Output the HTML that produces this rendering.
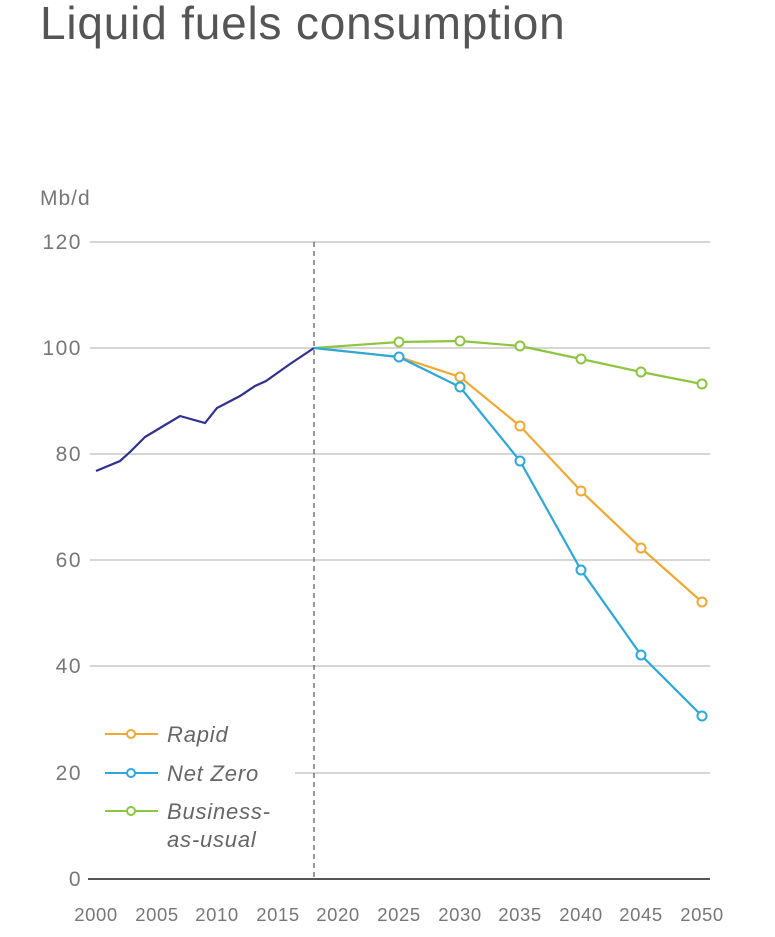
<!DOCTYPE html>
<html><head><meta charset="utf-8"><style>
html,body{margin:0;padding:0;background:#fff;}
svg{display:block;font-family:"Liberation Sans",sans-serif;}
</style></head><body>
<svg width="775" height="937" viewBox="0 0 775 937">
<text x="40" y="39" font-size="46" fill="#555" letter-spacing="0.8">Liquid fuels consumption</text>
<text x="40" y="205" font-size="21" fill="#777" letter-spacing="1">Mb/d</text>
<g stroke="#c8c8c8" stroke-width="1.5">
<line x1="90" x2="710" y1="242" y2="242"/>
<line x1="90" x2="710" y1="348" y2="348"/>
<line x1="90" x2="710" y1="454" y2="454"/>
<line x1="90" x2="710" y1="560" y2="560"/>
<line x1="90" x2="710" y1="666" y2="666"/>
<line x1="295" x2="710" y1="773" y2="773"/>
</g>
<line x1="88" x2="710" y1="879" y2="879" stroke="#555" stroke-width="2"/>
<line x1="314" x2="314" y1="242" y2="879" stroke="#555" stroke-width="1.2" stroke-dasharray="5,4"/>
<g font-size="21" fill="#777" text-anchor="end" letter-spacing="1.5">
<text x="82" y="249">120</text><text x="82" y="355">100</text><text x="82" y="461">80</text>
<text x="82" y="567">60</text><text x="82" y="673">40</text><text x="82" y="780">20</text><text x="82" y="886">0</text>
</g>
<g font-size="18.5" fill="#777" text-anchor="middle" letter-spacing="0.6">
<text x="96" y="921">2000</text><text x="157" y="921">2005</text><text x="217" y="921">2010</text>
<text x="278" y="921">2015</text><text x="338" y="921">2020</text><text x="399" y="921">2025</text>
<text x="460" y="921">2030</text><text x="520" y="921">2035</text><text x="581" y="921">2040</text>
<text x="641" y="921">2045</text><text x="702" y="921">2050</text>
</g>
<polyline fill="none" stroke="#2e3192" stroke-width="2.2" points="96,471 120,461 130,452 145,437 160,428 180,416 205,423 217,408 240,396 255,386 266,381 290,364 314,348"/>
<g fill="none" stroke-width="2.2">
<polyline stroke="#8cc63f" points="314,348 399,342 460,341 520,346 581,359 641,372 702,384"/>
<polyline stroke="#f0a830" points="314,348 399,357 460,377 520,426 581,491 641,548 702,602"/>
<polyline stroke="#2ba8dc" points="314,348 399,357 460,387 520,461 581,570 641,655 702,716"/>
</g>
<g fill="#fff" stroke-width="2">
<g stroke="#8cc63f"><circle cx="399" cy="342" r="4.5"/><circle cx="460" cy="341" r="4.5"/><circle cx="520" cy="346" r="4.5"/><circle cx="581" cy="359" r="4.5"/><circle cx="641" cy="372" r="4.5"/><circle cx="702" cy="384" r="4.5"/></g>
<g stroke="#f0a830"><circle cx="460" cy="377" r="4.5"/><circle cx="520" cy="426" r="4.5"/><circle cx="581" cy="491" r="4.5"/><circle cx="641" cy="548" r="4.5"/><circle cx="702" cy="602" r="4.5"/></g>
<g stroke="#2ba8dc"><circle cx="399" cy="357" r="4.5"/><circle cx="460" cy="387" r="4.5"/><circle cx="520" cy="461" r="4.5"/><circle cx="581" cy="570" r="4.5"/><circle cx="641" cy="655" r="4.5"/><circle cx="702" cy="716" r="4.5"/></g>
</g>
<g stroke-width="2" fill="#fff">
<line x1="105" x2="158" y1="734" y2="734" stroke="#f0a830"/><circle cx="131" cy="734" r="4" stroke="#f0a830"/>
<line x1="105" x2="158" y1="773" y2="773" stroke="#2ba8dc"/><circle cx="131" cy="773" r="4" stroke="#2ba8dc"/>
<line x1="105" x2="158" y1="811" y2="811" stroke="#8cc63f"/><circle cx="131" cy="811" r="4" stroke="#8cc63f"/>
</g>
<g font-size="22" font-style="italic" fill="#666" letter-spacing="0.8">
<text x="167" y="742">Rapid</text><text x="167" y="781">Net Zero</text>
<text x="167" y="819">Business-</text><text x="167" y="847">as-usual</text>
</g>
</svg>
</body></html>
